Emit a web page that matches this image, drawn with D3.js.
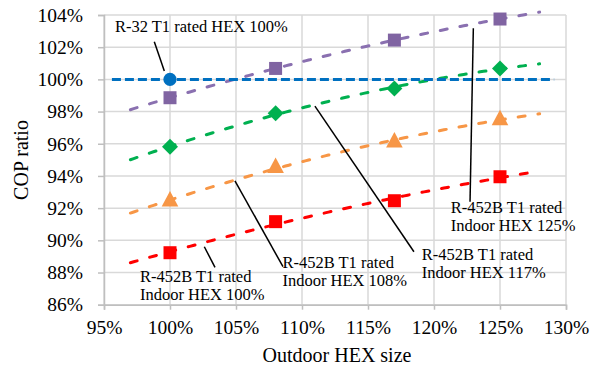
<!DOCTYPE html>
<html>
<head>
<meta charset="utf-8">
<script src="https://cdn.jsdelivr.net/npm/d3@7"></script>
<style>
  html, body { margin: 0; padding: 0; background: #fff; }
  svg { display: block; font-family: "Liberation Serif", "Times New Roman", serif; }
</style>
</head>
<body>
<svg id="chart" width="595" height="371"></svg>
<script>
// Outdoor heat-exchanger size (% of rated) for each measured point
const outdoorSize = [100, 108, 117, 125];

// COP ratio (%) of R-452B runs, one series per indoor HEX size
const indoorHex100 = [89.23, 91.16, 92.46, 93.95];
const indoorHex108 = [92.47, 94.55, 96.14, 97.52];
const indoorHex117 = [95.81, 97.89, 99.44, 100.68];
const indoorHex125 = [98.86, 100.68, 102.44, 103.75];

// R-32 baseline point and the span of its reference line
const r32Point = [100, 100];
const r32LineSpan = [95.6, 129.1];

// Range over which the polynomial trend lines are drawn
const trendSpan = [97, 128];

// Axis ticks
const xTicks = [95, 100, 105, 110, 115, 120, 125, 130];
const yTicks = [86, 88, 90, 92, 94, 96, 98, 100, 102, 104];

const series = [
  { name: "Indoor HEX 125%", values: indoorHex125, color: "#8064A2", line: "#8A70B0", shape: "square" },
  { name: "Indoor HEX 117%", values: indoorHex117, color: "#00B050", line: "#00B050", shape: "diamond" },
  { name: "Indoor HEX 108%", values: indoorHex108, color: "#F79646", line: "#F79646", shape: "triangle" },
  { name: "Indoor HEX 100%", values: indoorHex100, color: "#FF0000", line: "#FF0000", shape: "square" }
];

// Callout labels: text lines, anchor of first baseline, leader segment (all in data units)
const callouts = [
  { lines: ["R-32 T1 rated HEX 100%"], at: [95.83, 102.96], lead: [[98.81, 102.34], [99.57, 100.52]] },
  { lines: ["R-452B T1 rated", "Indoor HEX 100%"], at: [97.72, 87.43], lead: [[102.6, 89.6], [103.41, 88.32]] },
  { lines: ["R-452B T1 rated", "Indoor HEX 108%"], at: [108.52, 88.26], lead: [[104.92, 93.7], [108.56, 88.36]] },
  { lines: ["R-452B T1 rated", "Indoor HEX 117%"], at: [119.07, 88.76], lead: [[110.98, 98.34], [118.48, 89.29]] },
  { lines: ["R-452B T1 rated", "Indoor HEX 125%"], at: [121.27, 91.7], lead: [[122.98, 103.17], [122.73, 92.4]] }
];

const svg = d3.select("#chart");
const plot = { left: 104, right: 566, top: 15, bottom: 304.7 };

const x = d3.scaleLinear().domain([95, 130]).range([plot.left, plot.right]);
const y = d3.scaleLinear().domain([86, 104]).range([plot.bottom, plot.top]);
const pct = d => d3.format("d")(d) + "%";

// Gridlines
const grid = svg.append("g").attr("stroke", "#D9D9D9").attr("stroke-width", 1.5);
grid.selectAll("line.h").data(yTicks).join("line")
  .attr("x1", plot.left).attr("x2", plot.right)
  .attr("y1", d => y(d)).attr("y2", d => y(d));
grid.selectAll("line.v").data(xTicks).join("line")
  .attr("y1", plot.top).attr("y2", plot.bottom)
  .attr("x1", d => x(d)).attr("x2", d => x(d));

// Axes
const xAxis = svg.append("g").attr("transform", `translate(0,${plot.bottom})`)
  .call(d3.axisBottom(x).tickValues(xTicks).tickFormat(pct).tickSize(5).tickPadding(10));
const yAxis = svg.append("g").attr("transform", `translate(${plot.left},0)`)
  .call(d3.axisLeft(y).tickValues(yTicks).tickFormat(pct).tickSize(6).tickPadding(15));
[xAxis, yAxis].forEach(a => {
  a.select(".domain").attr("stroke", "#BFBFBF").attr("stroke-width", 1.5);
  a.selectAll(".tick line").attr("stroke", "#BFBFBF").attr("stroke-width", 1.5);
  a.selectAll("text").attr("fill", "#000").style("font-size", "19.5px")
    .style("font-family", '"Liberation Serif", "Times New Roman", serif');
});

// Axis titles
svg.append("text").attr("x", 337).attr("y", 362).attr("text-anchor", "middle")
  .style("font-size", "20px").text("Outdoor HEX size");
svg.append("text").attr("transform", "translate(28,160) rotate(-90)").attr("text-anchor", "middle")
  .style("font-size", "20px").text("COP ratio");

// Second-order least-squares trend line through a series
function quadFit(xs, ys) {
  const n = xs.length, mx = d3.mean(xs);
  const t = xs.map(v => v - mx);
  const t2 = t.map(v => v * v), mt2 = d3.mean(t2);
  const u = t2.map(v => v - mt2);
  const my = d3.mean(ys);
  const c1 = d3.sum(t.map((v, i) => v * ys[i])) / d3.sum(t2);
  const c2 = d3.sum(u.map((v, i) => v * ys[i])) / d3.sum(u.map(v => v * v));
  return xv => { const tv = xv - mx; return my + c1 * tv + c2 * (tv * tv - mt2); };
}

const trendLine = d3.line().x(d => x(d[0])).y(d => y(d[1])).curve(d3.curveLinear);
const trendXs = d3.range(trendSpan[0], trendSpan[1] + 0.001, 0.25);

series.forEach(s => {
  const f = quadFit(outdoorSize, s.values);
  svg.append("path")
    .datum(trendXs.map(v => [v, f(v)]))
    .attr("d", trendLine)
    .attr("fill", "none").attr("stroke", s.line).attr("stroke-width", 3)
    .attr("stroke-linecap", "round").attr("stroke-dasharray", "7,13");
});

// R-32 reference line
svg.append("line")
  .attr("x1", x(r32LineSpan[0])).attr("x2", x(r32LineSpan[1]))
  .attr("y1", y(r32Point[1])).attr("y2", y(r32Point[1]))
  .attr("stroke", "#0070C0").attr("stroke-width", 3).attr("stroke-dasharray", "9,4");

// Markers
const symbolSize = { square: 13 * 13, diamond: 11.3 * 11.3 * 1.0, triangle: 120 };
series.forEach(s => {
  const g = svg.append("g").attr("fill", s.color);
  g.selectAll("path").data(outdoorSize.map((v, i) => [v, s.values[i]])).join("path")
    .attr("transform", d => `translate(${x(d[0])},${y(d[1])})`)
    .attr("d", () => {
      if (s.shape === "square") return d3.symbol(d3.symbolSquare, symbolSize.square)();
      if (s.shape === "diamond") return "M0,-8L8,0L0,8L-8,0Z";
      return "M0,-9.5L8.3,6L-8.3,6Z";
    });
});
svg.append("circle").attr("cx", x(r32Point[0])).attr("cy", y(r32Point[1]))
  .attr("r", 6.6).attr("fill", "#0070C0");

// Callouts with leader lines
callouts.forEach(c => {
  svg.append("line")
    .attr("x1", x(c.lead[0][0])).attr("y1", y(c.lead[0][1]))
    .attr("x2", x(c.lead[1][0])).attr("y2", y(c.lead[1][1]))
    .attr("stroke", "#000").attr("stroke-width", 1.5);
  const t = svg.append("text").attr("x", x(c.at[0])).attr("y", y(c.at[1]))
    .style("font-size", "16.5px").attr("fill", "#000");
  c.lines.forEach((ln, i) => {
    t.append("tspan").attr("x", x(c.at[0])).attr("dy", i === 0 ? 0 : 18).text(ln);
  });
});
</script>
</body>
</html>
